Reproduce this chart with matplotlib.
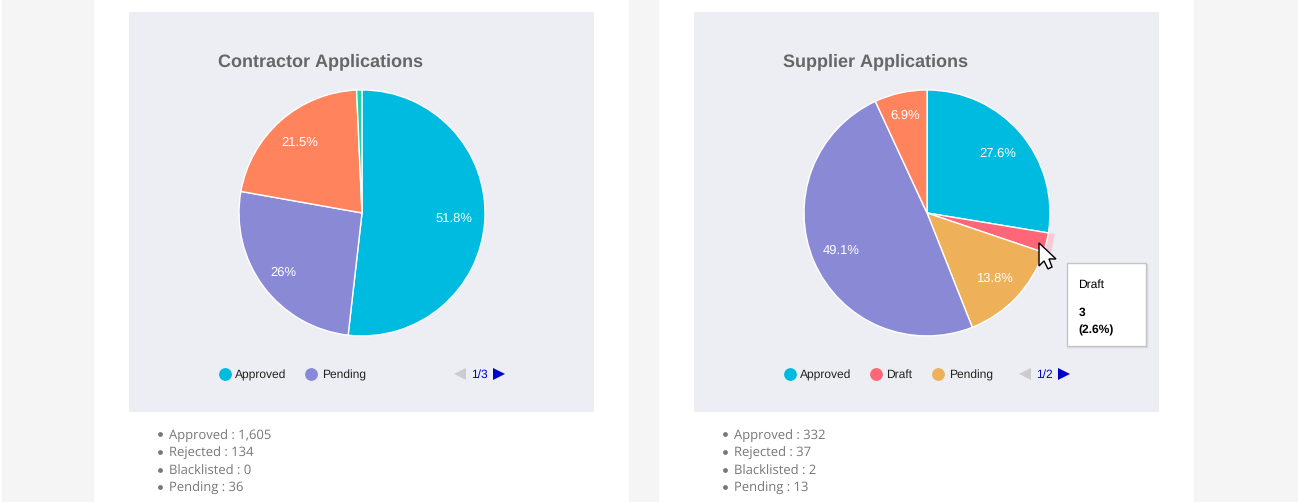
from matplotlib import pyplot as plt
from matplotlib.patches import Rectangle, Wedge, Polygon

# === Data ===
contractor_title = "Contractor Applications"
contractor_values = [51.8, 26, 21.5, 0.7]
contractor_colors = ["#00bbe0", "#8a89d6", "#ff835c", "#1ed2ac"]
contractor_legend = ["Approved", "Pending"]
contractor_legend_colors = ["#00bbe0", "#8a89d6"]
contractor_page = "1/3"
contractor_stats = ["Approved : 1,605", "Rejected : 134", "Blacklisted : 0", "Pending : 36"]

supplier_title = "Supplier Applications"
supplier_values = [27.6, 2.6, 13.8, 49.1, 6.9]
supplier_colors = ["#00bbe0", "#ff6678", "#eeb058", "#8a89d6", "#ff835c"]
supplier_legend = ["Approved", "Draft", "Pending"]
supplier_legend_colors = ["#00bbe0", "#ff6678", "#eeb058"]
supplier_page = "1/2"
supplier_stats = ["Approved : 332", "Rejected : 37", "Blacklisted : 2", "Pending : 13"]

W, H = 1300, 502
SANS = "Liberation Sans"
PX = 0.72  # css px to pt at dpi 100

plt.rcParams["text.hinting"] = "no_hinting"
plt.rcParams["text.hinting_factor"] = 1

# the extra 0.1 stops 5.02 * 100 rounding down to 501 px
fig = plt.figure(figsize=(W / 100, (H + 0.1) / 100), dpi=100, facecolor="white")
bg = fig.add_axes([0, 0, 1, 1])
bg.set_xlim(0, W)
bg.set_ylim(H, 0)
bg.axis("off")
bg.add_patch(Rectangle((2, 0), W - 4, H, fc="#f5f5f5", ec="none", zorder=0))


def draw_card(x0, title, values, colors, legend, legend_colors, legend_x, text_x, page, stats, label_r):
    # white column + grey panel
    bg.add_patch(Rectangle((x0 - 35, 0), 535, H, fc="white", ec="none", zorder=0.5))
    bg.add_patch(Rectangle((x0, 12), 465, 400, fc="#edeef3", ec="none", zorder=1))
    bg.text(x0 + 89, 66, title, family=SANS, weight="bold", fontsize=18 * PX,
            color="#666666", va="baseline", ha="left", zorder=2)

    # pie in its own axes, radius 123 px around (cx, 213)
    cx, cy, r = x0 + 233, 213, 123
    ax = fig.add_axes([(cx - r) / W, 1 - (cy + r) / H, 2 * r / W, 2 * r / H])
    ax.patch.set_alpha(0)
    labels = [f"{v:g}%" if v >= 5 else "" for v in values]
    wedges, texts = ax.pie(values, colors=colors, labels=labels, labeldistance=1.0,
                           startangle=90, counterclock=False, radius=1,
                           wedgeprops=dict(edgecolor="white", linewidth=1))
    for lr, t in zip(label_r, texts):
        t.set(color="white", family=SANS, fontsize=12.8 * PX, ha="center", va="center")
        x, y = t.get_position()
        t.set_position((x * lr, y * lr - 0.006))
    ax.set_xlim(-1, 1)
    ax.set_ylim(-1, 1)
    ax.axis("off")

    # legend
    for lx, tx, name, c in zip(legend_x, text_x, legend, legend_colors):
        bg.scatter([lx], [374], s=85, color=c, linewidths=0, zorder=3)
        bg.text(tx, 378, name, family=SANS, fontsize=12.4 * PX, color="#222222",
                va="baseline", ha="left", zorder=3)

    # pager
    px = x0 + 325
    bg.add_patch(Polygon([(px + 12, 368), (px + 12, 380), (px, 374)], fc="#cccccc", ec="none", zorder=3))
    bg.text(px + 17.5, 378, page, family=SANS, fontsize=12 * PX, color="#0000cc",
            va="baseline", ha="left", zorder=3)
    bg.add_patch(Polygon([(px + 39, 368), (px + 39, 380), (px + 51, 374)], fc="#0000cc", ec="none", zorder=3))

    # stats list under panel
    for y, line in zip([439, 457, 474.5, 492], stats):
        bg.scatter([x0 + 30.5], [y - 4.5], s=12, color="#777777", linewidths=0, zorder=3)
        bg.text(x0 + 40, y, line, family="Open Sans", fontsize=13 * PX, color="#777777",
                va="baseline", ha="left", zorder=3)
    return ax


draw_card(129, contractor_title, contractor_values, contractor_colors, contractor_legend,
          contractor_legend_colors, [224.5, 311], [235, 322], contractor_page, contractor_stats,
          [0.75, 0.80, 0.765, 0.76])
ax2 = draw_card(694, supplier_title, supplier_values, supplier_colors, supplier_legend,
                supplier_legend_colors, [789.5, 876, 938], [800, 886, 949], supplier_page, supplier_stats,
                [0.76, 0.76, 0.76, 0.76, 0.82])

# hover halo on the Draft slice
start = 90 - 360 * supplier_values[0] / sum(supplier_values)
end = start - 360 * supplier_values[1] / sum(supplier_values)
ax2.add_patch(Wedge((0, 0), 1.055, end, start, width=0.05, fc="#f5ccd6", ec="none", clip_on=False))

# overlay above the pies for tooltip and cursor
top = fig.add_axes([0, 0, 1, 1], zorder=5)
top.set_xlim(0, W)
top.set_ylim(H, 0)
top.axis("off")

# tooltip with soft shadow
for off, c in [(3, "#e6e7ec"), (2, "#dcdde2"), (1, "#cfd0d5")]:
    top.add_patch(Rectangle((1067, 264), 79 + off, 82 + off, fc=c, ec="none", zorder=1))
top.add_patch(Rectangle((1066.5, 263.5), 79.5, 82.5, fc="white", ec="#c4c4c4", lw=1, zorder=2))
top.text(1078.5, 288, "Draft", family=SANS, fontsize=12 * PX, color="black", va="baseline", zorder=3)
top.text(1078.5, 316, "3", family=SANS, weight="bold", fontsize=12 * PX, color="black", va="baseline", zorder=3)
top.text(1078.5, 333, "(2.6%)", family=SANS, weight="bold", fontsize=12 * PX, color="black", va="baseline", zorder=3)

# mouse cursor
top.add_patch(Polygon([(1039, 243), (1039, 266), (1044, 261), (1048, 269), (1052, 267), (1049, 259), (1056, 259)],
                      closed=True, fc="white", ec="black", lw=1, zorder=4))

fig.savefig("out.png", dpi=100, facecolor=fig.get_facecolor())
